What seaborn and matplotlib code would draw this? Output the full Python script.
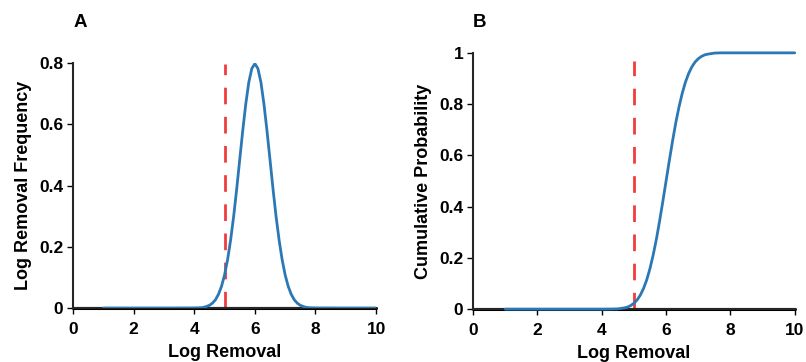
import matplotlib
matplotlib.use("Agg")
import matplotlib.pyplot as plt
import seaborn as sns
import pandas as pd

sns.set_theme(style="ticks")
plt.rcParams['font.family'] = ['Liberation Sans', 'DejaVu Sans']
plt.rcParams['font.weight'] = 'bold'
plt.rcParams['text.color'] = 'black'
plt.rcParams['axes.labelcolor'] = 'black'
plt.rcParams['xtick.color'] = 'black'
plt.rcParams['ytick.color'] = 'black'

# Panel A: log removal frequency
x_pdf = [1.0, 2.0, 3.0, 4.0, 4.2, 4.3, 4.4, 4.5, 4.6, 4.7, 4.8, 4.9, 5.0, 5.1, 5.2, 5.3,
         5.4, 5.5, 5.6, 5.7, 5.8, 5.9, 6.0, 6.1, 6.2, 6.3, 6.4, 6.5, 6.6, 6.7, 6.8,
         6.9, 7.0, 7.1, 7.2, 7.3, 7.4, 7.5, 7.6, 7.7, 7.8, 8.0, 9.0, 10.0]
y_pdf = [0.0, 0.0, 0.0, 0.0003, 0.001, 0.002, 0.005, 0.009, 0.016, 0.027, 0.045, 0.071,
         0.108, 0.158, 0.222, 0.299, 0.388, 0.484, 0.579, 0.666, 0.737, 0.782, 0.798,
         0.782, 0.737, 0.666, 0.579, 0.484, 0.388, 0.299, 0.222, 0.158, 0.108, 0.071,
         0.045, 0.027, 0.016, 0.009, 0.005, 0.002, 0.001, 0.0003, 0.0, 0.0]

# Panel B: cumulative probability
x_cdf = [1.0, 2.0, 3.0, 4.0, 4.3, 4.5, 4.6, 4.7, 4.8, 4.9, 5.0, 5.1, 5.2, 5.3, 5.4, 5.5,
         5.6, 5.7, 5.8, 5.9, 6.0, 6.1, 6.2, 6.3, 6.4, 6.5, 6.6, 6.7, 6.8, 6.9, 7.0,
         7.1, 7.2, 7.3, 7.4, 7.5, 7.7, 8.0, 9.0, 10.0]
y_cdf = [0.0, 0.0, 0.0, 0.0, 0.0003, 0.001, 0.003, 0.005, 0.008, 0.014, 0.023, 0.036,
         0.055, 0.081, 0.115, 0.159, 0.212, 0.274, 0.345, 0.421, 0.5, 0.579, 0.655,
         0.726, 0.788, 0.841, 0.885, 0.919, 0.945, 0.964, 0.977, 0.986, 0.992, 0.995,
         0.997, 0.999, 1.0, 1.0, 1.0, 1.0]

threshold = 5.0
x_ticks = [0, 2, 4, 6, 8, 10]
yticks_a = [0, 0.2, 0.4, 0.6, 0.8]
yticklabels_a = ["0", "0.2", "0.4", "0.6", "0.8"]
yticks_b = [0, 0.2, 0.4, 0.6, 0.8, 1.0]
yticklabels_b = ["0", "0.2", "0.4", "0.6", "0.8", "1"]

blue = "#2b78b4"
red = "#f03c3c"
TICK_FS = 12.5
LAB_FS = 13

fig = plt.figure(figsize=(8.06, 3.62), dpi=100)
axA = fig.add_axes([0.0906, 0.149, 0.3760, 0.677])
axB = fig.add_axes([0.5870, 0.146, 0.3990, 0.708])

dfA = pd.DataFrame({"x": x_pdf, "y": y_pdf})
dfB = pd.DataFrame({"x": x_cdf, "y": y_cdf})

def style(ax, yticks, yticklabels, ylim, ylabel, vtop):
    ax.set_xlim(0, 10)
    ax.set_ylim(*ylim)
    ax.axvline(threshold, ymin=0, ymax=vtop, color=red, lw=2, ls=(0, (6, 4.5)), zorder=1)
    ax.axhline(0, color="black", lw=2.2, zorder=2, clip_on=False)
    ax.set_xticks(x_ticks)
    ax.set_xticklabels([str(t) for t in x_ticks], fontsize=TICK_FS, fontweight="bold")
    ax.set_yticks(yticks)
    ax.set_yticklabels(yticklabels, fontsize=TICK_FS, fontweight="bold")
    ax.set_xlabel("Log Removal", fontsize=LAB_FS, fontweight="bold", labelpad=5)
    ax.set_ylabel(ylabel, fontsize=LAB_FS, fontweight="bold", labelpad=5)
    for s in ["top", "right"]:
        ax.spines[s].set_visible(False)
    ax.spines["left"].set_linewidth(1.5)
    ax.spines["bottom"].set_linewidth(1.5)
    ax.tick_params(axis="both", length=4, width=1, color="black", pad=3)
    ax.tick_params(axis="x", pad=6)

sns.lineplot(data=dfA, x="x", y="y", ax=axA, color=blue, lw=2, zorder=3)
style(axA, yticks_a, yticklabels_a, (0, 0.8), "Log Removal Frequency", 0.995)

sns.lineplot(data=dfB, x="x", y="y", ax=axB, color=blue, lw=2, zorder=3)
axB.lines[0].set_clip_on(False)
style(axB, yticks_b, yticklabels_b, (0, 1.0), "Cumulative Probability", 0.97)

fig.text(74 / 806, 1 - 31 / 362, "A", fontsize=13.5, fontweight="bold", ha="left", va="bottom")
fig.text(473 / 806, 1 - 31 / 362, "B", fontsize=13.5, fontweight="bold", ha="left", va="bottom")

fig.savefig("out.png", dpi=100)
